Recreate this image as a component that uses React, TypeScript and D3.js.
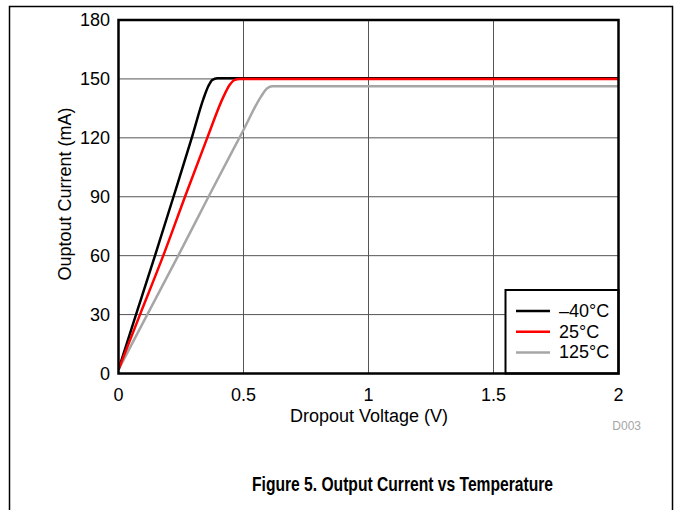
import React from "react";
import * as d3 from "d3";

const xTicks = [0, 0.5, 1, 1.5, 2];
const xTickLabels = ["0", "0.5", "1", "1.5", "2"];
const yTicks = [0, 30, 60, 90, 120, 150, 180];

const seriesNames = ["\u201340\u00b0C", "25\u00b0C", "125\u00b0C"];
const seriesColors = ["#000000", "#ff0000", "#a6a6a6"];

const cold: [number, number][] = [
  [0, 2], [0.07, 30], [0.146, 60], [0.22, 90], [0.293, 120], [0.34, 140],
  [0.36, 146.5], [0.375, 149.5], [0.395, 150.4], [2, 150.4],
];
const room: [number, number][] = [
  [0, 2], [0.086, 30], [0.179, 60], [0.266, 90], [0.355, 120], [0.42, 141],
  [0.445, 147], [0.463, 149.4], [0.485, 149.9], [2, 149.9],
];
const hot: [number, number][] = [
  [0, 2], [0.115, 30], [0.239, 60], [0.36, 90], [0.5, 124], [0.57, 141],
  [0.595, 145.3], [0.615, 146.3], [2, 146.3],
];
const seriesData = [cold, room, hot];

export default function App() {
  const W = 683, H = 510;
  const left = 118.5, right = 618.5, top = 20, bottom = 373.5;
  const x = d3.scaleLinear().domain([0, 2]).range([left, right]);
  const y = d3.scaleLinear().domain([0, 180]).range([bottom, top]);
  const line = d3
    .line<[number, number]>()
    .x((d) => x(d[0]))
    .y((d) => y(d[1]))
    .curve(d3.curveMonotoneX);
  const font = "Arial, 'Liberation Sans', Helvetica, sans-serif";
  const legX = 505.5, legY = 290, legW = right - 505.5, legH = bottom - 290;
  const fs = 18;
  return (
    <div style={{ position: "absolute", left: 0, top: 0 }}>
      <svg width={W} height={H} style={{ display: "block" }} fontFamily={font}>
        <rect x={0} y={0} width={W} height={H} fill="#fff" />
        <path d={`M9.5,${H} V6.5 H672.5 V${H}`} fill="none" stroke="#000" strokeWidth={1.5} />
        {xTicks.slice(1, -1).map((t) => (
          <line key={"gx" + t} x1={x(t)} x2={x(t)} y1={top} y2={bottom} stroke="#555" strokeWidth={1} />
        ))}
        {yTicks.slice(1, -1).map((t) => (
          <line key={"gy" + t} x1={left} x2={right} y1={y(t)} y2={y(t)} stroke="#555" strokeWidth={1} />
        ))}
        <defs>
          <clipPath id="plotclip">
            <rect x={left} y={top} width={right - left} height={bottom - top} />
          </clipPath>
        </defs>
        <g clipPath="url(#plotclip)">
          {[2, 0, 1].map((i) => (
            <path key={i} d={line(seriesData[i]) || ""} fill="none" stroke={seriesColors[i]} strokeWidth={2.5} strokeLinejoin="round" />
          ))}
        </g>
        <rect x={legX} y={legY} width={legW} height={legH} fill="#fff" stroke="#000" strokeWidth={2} />
        {seriesNames.map((n, i) => (
          <g key={n}>
            <line x1={516} x2={550} y1={311 + i * 20.7} y2={311 + i * 20.7} stroke={seriesColors[i]} strokeWidth={2.5} />
            <text x={559} y={317 + i * 20.7} fontSize={fs} fill="#000">{n}</text>
          </g>
        ))}
        <rect x={left} y={top} width={right - left} height={bottom - top} fill="none" stroke="#000" strokeWidth={2.5} />
        {yTicks.map((t) => (
          <text key={"ty" + t} x={110} y={y(t) + 6} fontSize={fs} textAnchor="end" fill="#000">{t}</text>
        ))}
        {xTicks.map((t, i) => (
          <text key={"tx" + t} x={x(t)} y={401} fontSize={fs} textAnchor="middle" fill="#000">{xTickLabels[i]}</text>
        ))}
        <text x={369} y={422} fontSize={fs} textAnchor="middle" fill="#000">Dropout Voltage (V)</text>
        <text transform={`translate(71,194) rotate(-90)`} fontSize={fs} textAnchor="middle" fill="#000">Ouptout Current (mA)</text>
        <text x={641} y={430} fontSize={12} textAnchor="end" fill="#a6a6a6">D003</text>
        <text x={252} y={491} fontSize={20.5} fontWeight="bold" fill="#000" textLength={301} lengthAdjust="spacingAndGlyphs">Figure 5. Output Current vs Temperature</text>
      </svg>
    </div>
  );
}
